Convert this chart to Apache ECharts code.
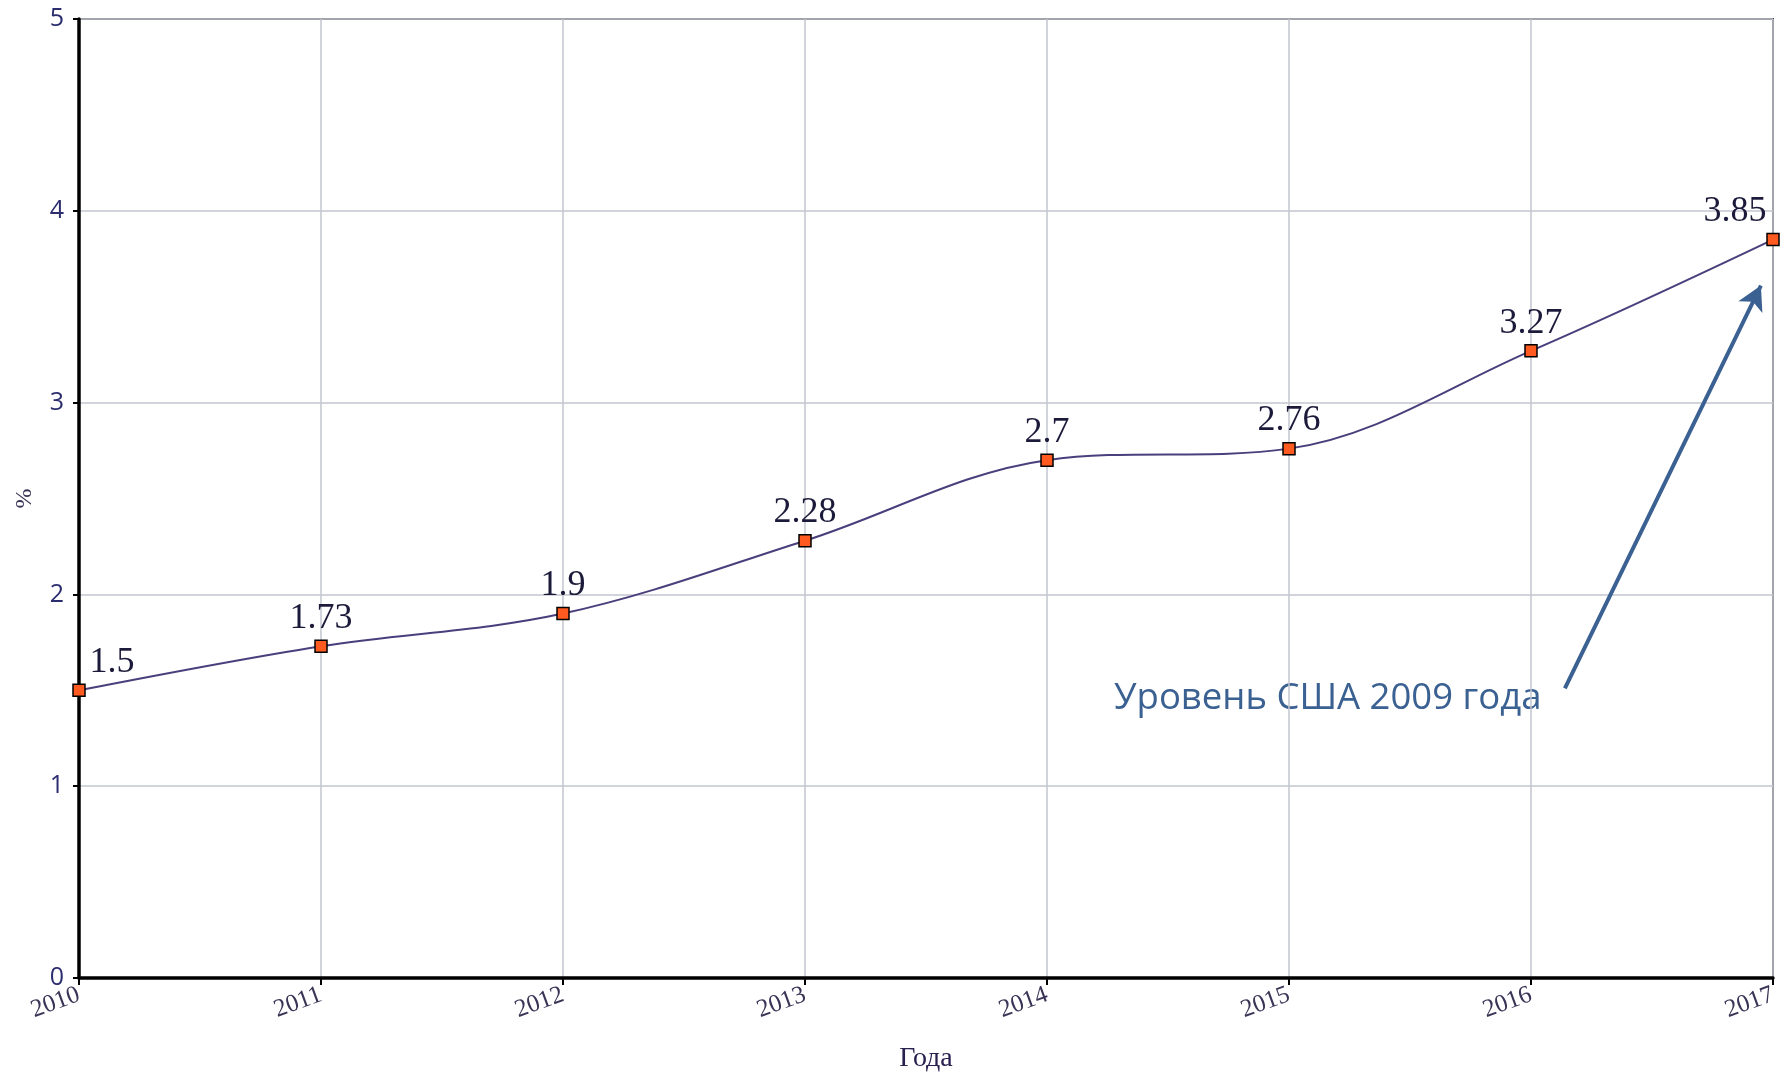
<!DOCTYPE html>
<html>
<head>
<meta charset="utf-8">
<style>
  html, body { margin: 0; padding: 0; background: #fff; }
  #chart { width: 1787px; height: 1074px; }
</style>
<script src="https://cdn.jsdelivr.net/npm/echarts@6/dist/echarts.min.js"></script>
</head>
<body>
<div id="chart"></div>
<script>
  // данные
  var years = [2010, 2011, 2012, 2013, 2014, 2015, 2016, 2017];
  var values = [1.5, 1.73, 1.9, 2.28, 2.7, 2.76, 3.27, 3.85];
  var yTicks = [0, 1, 2, 3, 4, 5];
  // стрелка к точке 2017 (координаты в осях)
  var arrowFrom = [2016.14, 1.51];
  var arrowTo = [2016.95, 3.61];
  var noteText = 'Уровень США 2009 года';

  var chart = echarts.init(document.getElementById('chart'));

  var pts = years.map(function (y, i) {
    var item = { value: [y, values[i]] };
    if (i === 0) item.label = { offset: [33, 0] };
    if (i === years.length - 1) item.label = { offset: [-38, 0] };
    return item;
  });

  var option = {
    animation: false,
    grid: {
      left: 79, right: 14, top: 19, bottom: 96,
      outerBoundsMode: 'none',
      show: true, borderColor: '#444', borderWidth: 2
    },
    xAxis: {
      type: 'value',
      min: years[0],
      max: years[years.length - 1],
      interval: 1,
      name: 'Года',
      nameLocation: 'middle',
      nameGap: 67,
      nameTextStyle: { fontFamily: 'Liberation Serif', fontSize: 28, color: '#2a2050' },
      axisLine: { lineStyle: { color: '#000', width: 3.5 } },
      axisTick: { show: true, length: 7, lineStyle: { color: '#000', width: 2 } },
      axisLabel: {
        rotate: 20,
        margin: 16,
        fontFamily: 'Liberation Serif',
        fontSize: 25,
        color: '#3a3456',
        formatter: function (v) { return String(v); }
      },
      splitLine: { show: true, lineStyle: { color: '#c3c6d1', width: 1.5 } }
    },
    yAxis: {
      type: 'value',
      min: yTicks[0],
      max: yTicks[yTicks.length - 1],
      interval: 1,
      name: '%',
      nameLocation: 'middle',
      nameGap: 42,
      nameRotate: 90,
      nameTextStyle: { fontFamily: 'Liberation Serif', fontSize: 24, color: '#3a3456' },
      axisLine: { show: true, lineStyle: { color: '#000', width: 3.5 } },
      axisTick: { show: true, length: 6, lineStyle: { color: '#000', width: 2 } },
      axisLabel: { fontFamily: 'Open Sans', fontSize: 25, color: '#2b2d6e', margin: 15 },
      splitLine: { show: true, lineStyle: { color: '#c3c6d1', width: 1.5 } }
    },
    graphic: [{
      type: 'text',
      left: 1114,
      top: 680,
      style: { text: noteText, font: '36.5px "Open Sans"', fill: '#3a6191' }
    }],
    series: [{
      type: 'line',
      data: pts,
      smooth: 0.35,
      symbol: 'rect',
      symbolSize: 12,
      lineStyle: { color: '#4a3f7c', width: 2 },
      itemStyle: { color: '#ff5a1f', borderColor: '#000', borderWidth: 1.5 },
      label: {
        show: true,
        position: 'top',
        distance: 3,
        fontFamily: 'Liberation Serif',
        fontSize: 36,
        color: '#1c1a3a',
        formatter: function (p) { return String(p.value[1]); }
      },
      markLine: {
        silent: true,
        symbol: ['none', 'arrow'],
        symbolSize: [20, 24],
        label: { show: false },
        lineStyle: { color: '#3a6191', width: 4, type: 'solid' },
        data: [[{ coord: arrowFrom }, { coord: arrowTo }]]
      },
      z: 3
    }]
  };

  chart.setOption(option);
</script>
</body>
</html>
